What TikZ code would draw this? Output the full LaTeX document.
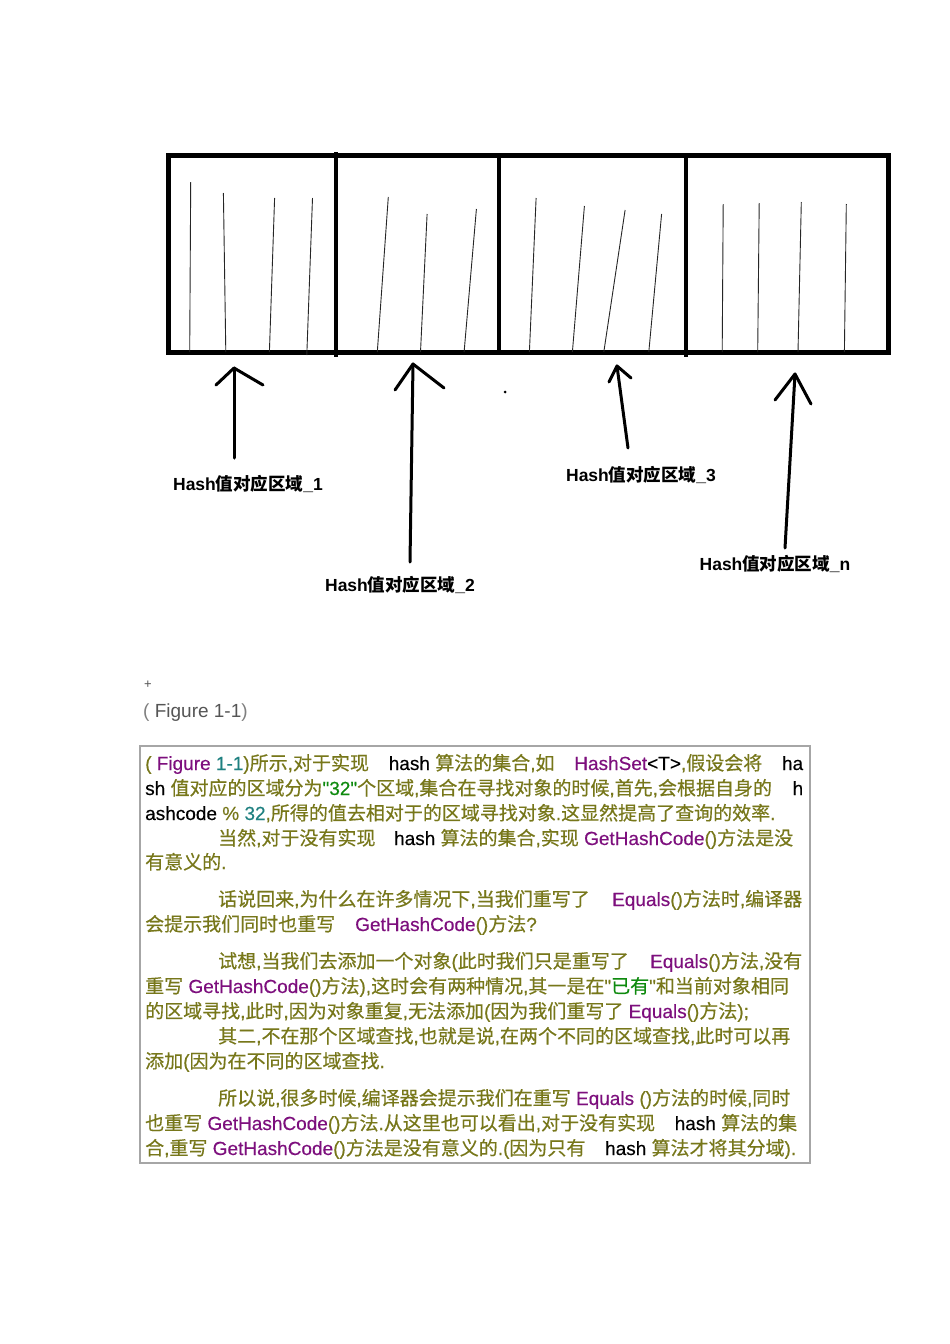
\documentclass[tikz,border=0pt]{standalone}
\usepackage{fontspec}
\setmainfont{Liberation Sans}
\newfontfamily\bodyfont[FakeBold=0.35]{Liberation Sans}
\newfontfamily\cjk{Noto Sans CJK SC}
\newfontfamily\cjkbody[FakeBold=0.45]{Noto Sans CJK SC}
\newcommand\zh[1]{{\cjk #1}}
\definecolor{ol}{HTML}{77771A}
\definecolor{pu}{HTML}{7D0F7D}
\definecolor{te}{HTML}{1E8080}
\definecolor{gr}{HTML}{0E8A0E}
\definecolor{capgray}{HTML}{555555}
\newcommand\cpu[1]{\textcolor{pu}{#1}}
\newcommand\cbk[1]{\textcolor{black}{#1}}
\newcommand\cte[1]{\textcolor{te}{#1}}
\newcommand\cgr[1]{\textcolor{gr}{#1}}
\tikzset{
  frame/.style={line width=5pt},
  divider/.style={line width=3.5pt},
  hatch/.style={line width=0.9pt, black!85},
  arr/.style={line width=3pt, line cap=round, line join=round},
  lbl/.style={font=\fontsize{17.5}{19}\selectfont\bfseries, inner sep=0pt},
  txt/.style={anchor=base west, inner sep=0pt, font=\fontsize{19}{25}\selectfont\bodyfont\let\cjk\cjkbody, text=ol},
}
\begin{document}
\begin{tikzpicture}[x=1pt,y=-1pt]
\useasboundingbox (0,0) rectangle (950,1344);
\fill[white] (0,0) rectangle (950,1344);

% hash table
\draw[frame] (168,155) rectangle (888,352);
\draw[divider] (336,152) -- (336,357);
\draw[divider] (499,155) -- (499,352);
\draw[divider] (686,155) -- (686,357);

% hatching
\draw[hatch] (190.7,182) -- (189.7,352);
\draw[hatch] (223.4,193) -- (225.8,352);
\draw[hatch] (274.6,198) -- (269.4,352);
\draw[hatch] (312.5,198) -- (306.8,355);
\draw[hatch] (388.3,197) -- (377.3,352);
\draw[hatch] (427.1,214) -- (420.5,352);
\draw[hatch] (476.4,209) -- (464.1,352);
\draw[hatch] (536.1,198) -- (529.4,352);
\draw[hatch] (584.4,206) -- (572.4,352);
\draw[hatch] (625.1,210) -- (603.8,352);
\draw[hatch] (661.6,214) -- (648.8,352);
\draw[hatch] (723.2,204) -- (722.2,352);
\draw[hatch] (759.2,203) -- (757.7,352);
\draw[hatch] (801.3,202) -- (798.0,352);
\draw[hatch] (846.3,204) -- (844.4,352);

% labels
\node[lbl] (lab1) at (248,484) {Hash\zh{值对应区域}\_1};
\node[lbl] (lab2) at (400,585) {Hash\zh{值对应区域}\_2};
\node[lbl] (lab3) at (641,475) {Hash\zh{值对应区域}\_3};
\node[lbl] (labn) at (775,564) {Hash\zh{值对应区域}\_n};

% arrows
\coordinate (t1) at (234,368); \coordinate (b1) at (234,458);
\coordinate (t2) at (413,364); \coordinate (b2) at (410,562);
\coordinate (t3) at (617,366); \coordinate (b3) at (628,448);
\coordinate (t4) at (795,374); \coordinate (b4) at (785,548);
\draw[arr] (b1) -- (t1); \draw[arr] (216,385) -- (t1) -- (263,385);
\draw[arr] (b2) -- (t2); \draw[arr] (395,390) -- (t2) -- (444,388);
\draw[arr] (b3) -- (t3); \draw[arr] (609,382) -- (t3) -- (631,378);
\draw[arr] (b4) -- (t4); \draw[arr] (775,400) -- (t4) -- (811,404);
\fill (505,392) circle (1.5pt);

% caption
\node[anchor=base west, inner sep=0pt, text=capgray, font=\fontsize{13}{15}\selectfont] (plus) at (144,688) {+};
\node[anchor=base west, inner sep=0pt, text=capgray, font=\fontsize{19}{22}\selectfont] (cap) at (143,717) {\textcolor{gray}{(} Figure 1-1\textcolor{gray}{)}};

% text box
\draw[line width=1.5pt, black!35] (140,746) rectangle (810,1163);

\node[txt] (l1) at (145,770) {\hbox to 658pt{( \cpu{Figure} \cte{1-1})\zh{所示},\zh{对于实现}\hfill\cbk{hash} \zh{算法的集合},\zh{如}\hfill\cpu{HashSet}\cbk{<T>},\zh{假设会将}\hfill\cbk{ha}}};
\node[txt] (l2) at (145,795) {\hbox to 658pt{\cbk{sh} \zh{值对应的区域分为}\cgr{"32"}\zh{个区域},\zh{集合在寻找对象的时候},\zh{首先},\zh{会根据自身的}\hfill\cbk{h}}};
\node[txt] (l3) at (145,820) {\cbk{ashcode} \% \cte{32},\zh{所得的值去相对于的区域寻找对象}.\zh{这显然提高了查询的效率}.};
\node[txt] (l4) at (218,845) {\hbox to 575pt{\zh{当然},\zh{对于没有实现}\hfill\cbk{hash} \zh{算法的集合},\zh{实现} \cpu{GetHashCode}()\zh{方法是没}}};
\node[txt] (l5) at (145,869) {\zh{有意义的}.};

\node[txt] (l6) at (218,906) {\hbox to 584pt{\zh{话说回来},\zh{为什么在许多情况下},\zh{当我们重写了}\hfill\cpu{Equals}()\zh{方法时},\zh{编译器}}};
\node[txt] (l7) at (145,931) {\zh{会提示我们同时也重写}\hspace{20pt}\cpu{GetHashCode}()\zh{方法}?};

\node[txt] (l8) at (218,968) {\hbox to 584pt{\zh{试想},\zh{当我们去添加一个对象}(\zh{此时我们只是重写了}\hfill\cpu{Equals}()\zh{方法},\zh{没有}}};
\node[txt] (l9) at (145,993) {\zh{重写} \cpu{GetHashCode}()\zh{方法}),\zh{这时会有两种情况},\zh{其一是在}"\cgr{\zh{已有}}"\zh{和当前对象相同}};
\node[txt] (l10) at (145,1018) {\zh{的区域寻找},\zh{此时},\zh{因为对象重复},\zh{无法添加}(\zh{因为我们重写了} \cpu{Equals}()\zh{方法});};
\node[txt] (l11) at (218,1043) {\zh{其二},\zh{不在那个区域查找},\zh{也就是说},\zh{在两个不同的区域查找},\zh{此时可以再}};
\node[txt] (l12) at (145,1068) {\zh{添加}(\zh{因为在不同的区域查找}.};

\node[txt] (l13) at (218,1105) {\zh{所以说},\zh{很多时候},\zh{编译器会提示我们在重写} \cpu{Equals} ()\zh{方法的时候},\zh{同时}};
\node[txt] (l14) at (145,1130) {\hbox to 652pt{\zh{也重写} \cpu{GetHashCode}()\zh{方法}.\zh{从这里也可以看出},\zh{对于没有实现}\hfill\cbk{hash} \zh{算法的集}}};
\node[txt] (l15) at (145,1155) {\hbox to 651pt{\zh{合},\zh{重写} \cpu{GetHashCode}()\zh{方法是没有意义的}.(\zh{因为只有}\hfill\cbk{hash} \zh{算法才将其分域}).}};
\end{tikzpicture}
\end{document}
